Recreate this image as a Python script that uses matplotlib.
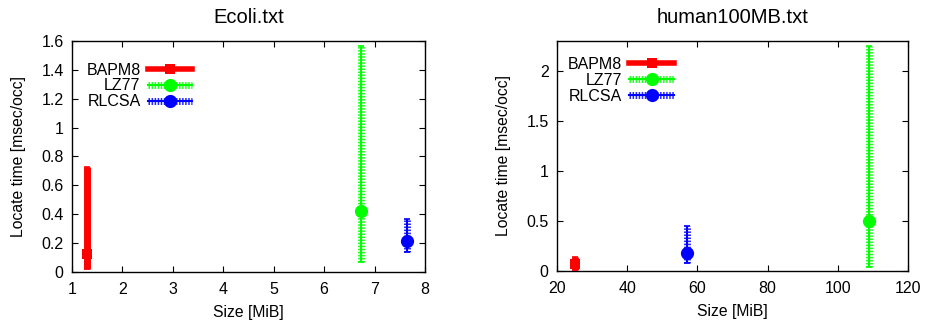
import matplotlib
matplotlib.use("Agg")
import matplotlib.pyplot as plt
from matplotlib.lines import Line2D
from matplotlib.legend_handler import HandlerTuple

plt.rcParams['font.family'] = ['Liberation Sans', 'DejaVu Sans']

methods = ["BAPM8", "LZ77", "RLCSA"]
colors = ["#ff0000", "#00ff00", "#0000ff"]

# Ecoli.txt  (order: BAPM8, LZ77, RLCSA)
ecoli_size = [1.29, 6.73, 7.64]
ecoli_mid = [0.125, 0.42, 0.215]
ecoli_lo = [0.02, 0.07, 0.14]
ecoli_hi = [0.73, 1.565, 0.37]

# human100MB.txt  (order: BAPM8, LZ77, RLCSA)
human_size = [25.1, 109.0, 57.1]
human_mid = [0.07, 0.50, 0.18]
human_lo = [0.01, 0.04, 0.08]
human_hi = [0.14, 2.25, 0.45]

fig = plt.figure(figsize=(9.25, 3.25), dpi=100)
ax1 = fig.add_axes([0.0778, 0.163, 0.3817, 0.711])
ax2 = fig.add_axes([0.602, 0.166, 0.3796, 0.708])

markers = ["s", "o", "o"]
msizes = [6.5, 9.5, 9.5]
solid = [True, False, False]


def draw(ax, xs, mids, los, his):
    for i in range(3):
        c = colors[i]
        ax.errorbar([xs[i]], [mids[i]],
                    yerr=[[mids[i] - los[i]], [his[i] - mids[i]]],
                    fmt="none", ecolor=c, elinewidth=1.5, capsize=2.5,
                    capthick=1.2, zorder=2)
        if solid[i]:
            ax.vlines(xs[i], los[i], his[i], colors=c, linewidth=5, zorder=3)
        else:
            ln = ax.vlines(xs[i], los[i], his[i], colors=c, linewidth=5,
                           zorder=3, alpha=0.85)
            ln.set_linestyle((0, (0.22, 0.22)))
        ax.plot([xs[i]], [mids[i]], marker=markers[i], markersize=msizes[i],
                color=c, markeredgewidth=0, linestyle="none", zorder=4)


draw(ax1, ecoli_size, ecoli_mid, ecoli_lo, ecoli_hi)
draw(ax2, human_size, human_mid, human_lo, human_hi)

ax1.set_xlim(1, 8)
ax1.set_ylim(0, 1.6)
ax1.set_xticks(range(1, 9))
ax1.set_yticks([0, 0.2, 0.4, 0.6, 0.8, 1.0, 1.2, 1.4, 1.6])
ax1.set_yticklabels(["0", "0.2", "0.4", "0.6", "0.8", "1", "1.2", "1.4", "1.6"])

ax2.set_xlim(20, 120)
ax2.set_ylim(0, 2.3)
ax2.set_xticks([20, 40, 60, 80, 100, 120])
ax2.set_yticks([0, 0.5, 1, 1.5, 2])
ax2.set_yticklabels(["0", "0.5", "1", "1.5", "2"])

anchors = {ax1: (0.009, 0.955), ax2: (0.0, 0.98)}

for ax, title in [(ax1, "Ecoli.txt"), (ax2, "human100MB.txt")]:
    ax.set_title(title, fontsize=14.5, pad=13)
    ax.set_xlabel("Size [MiB]", fontsize=11.3, labelpad=6)
    ax.set_ylabel("Locate time [msec/occ]", fontsize=11.3, labelpad=11)
    ax.tick_params(direction="in", top=True, right=True, labelsize=11.5,
                   length=4, width=0.8)
    ax.tick_params(axis="x", pad=7)
    ax.tick_params(axis="y", pad=6)
    for s in ax.spines.values():
        s.set_linewidth(1.0)

    handles = []
    for i in range(3):
        c = colors[i]
        thin = Line2D([], [], color=c, linewidth=1.5)
        if solid[i]:
            thick = Line2D([], [], color=c, linewidth=4)
        else:
            thick = Line2D([], [], color=c, linewidth=5, alpha=0.85,
                           linestyle=(0, (0.22, 0.22)))
        mk = Line2D([], [], color=c, marker=markers[i], markersize=msizes[i],
                    markeredgewidth=0, linestyle="none")
        handles.append((thin, thick, mk))
    ax.legend(handles, methods, handler_map={tuple: HandlerTuple(ndivide=1, pad=0)},
              loc="upper left", bbox_to_anchor=anchors[ax], frameon=False,
              markerfirst=False, fontsize=11.5, handlelength=2.8,
              handletextpad=0.45, labelspacing=0.06, borderaxespad=0.3)

fig.savefig("out.png", dpi=100)
